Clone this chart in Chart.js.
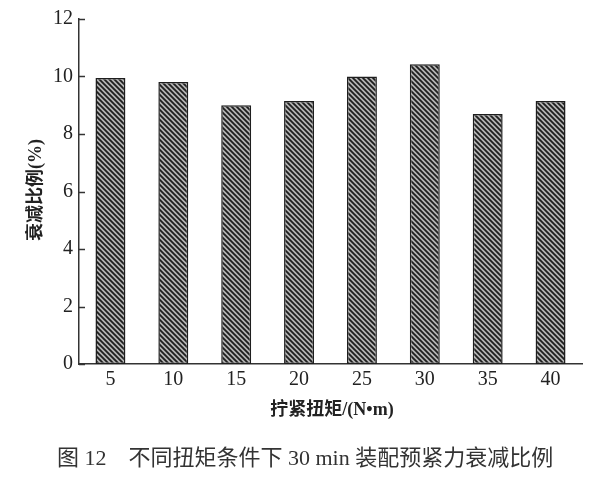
<!DOCTYPE html>
<html><head><meta charset="utf-8">
<script src="https://cdn.jsdelivr.net/npm/chart.js@4"></script>
<style>html,body{margin:0;padding:0;background:#fff}#wrap{width:593px;height:480px}</style>
</head><body><div id="wrap"><canvas id="c" width="593" height="480"></canvas></div>
<script>
const categories = ['5','10','15','20','25','30','35','40'];
const decayRatio = [9.95, 9.81, 9.0, 9.15, 10.0, 10.43, 8.7, 9.15];
const yTicks = [0, 2, 4, 6, 8, 10, 12];
const yTitle = '衰减比例(%)';
const xTitle = '拧紧扭矩/(N•m)';
const caption = '图 12　不同扭矩条件下 30 min 装配预紧力衰减比例';

function makePattern(){
  const p = document.createElement('canvas'); p.width = 5; p.height = 5;
  const g = p.getContext('2d');
  g.fillStyle = '#b4b4b4'; g.fillRect(0,0,5,5);
  g.strokeStyle = '#1e1e1e'; g.lineWidth = 1.8;
  g.beginPath();
  g.moveTo(-1,-1); g.lineTo(6,6);
  g.moveTo(4,-1); g.lineTo(6,1);
  g.moveTo(-1,4); g.lineTo(1,6);
  g.stroke();
  return document.getElementById('c').getContext('2d').createPattern(p,'repeat');
}

const extras = {
  id:'extras',
  afterDraw(chart){
    const ctx = chart.ctx, ys = chart.scales.y, a = chart.chartArea;
    ctx.save();
    ctx.strokeStyle = '#333'; ctx.lineWidth = 1.5;
    yTicks.forEach(v=>{
      const py = Math.round(ys.getPixelForValue(v))+0.5;
      ctx.beginPath(); ctx.moveTo(a.left, py); ctx.lineTo(a.left+6, py); ctx.stroke();
    });
    ctx.fillStyle = '#222';
    ctx.font = 'bold 18px "Liberation Serif", "Noto Sans CJK SC"';
    ctx.textAlign = 'center'; ctx.textBaseline = 'middle';
    ctx.fillText(xTitle, 332, 410);
    ctx.save();
    ctx.translate(36, 190); ctx.rotate(-Math.PI/2);
    ctx.fillText(yTitle, 0, 0);
    ctx.restore();
    ctx.font = '22px "Liberation Serif", "Noto Sans CJK SC"';
    ctx.fillStyle = '#333';
    ctx.textAlign = 'left';
    ctx.fillText(caption, 57, 459);
    ctx.restore();
  }
};

new Chart(document.getElementById('c'), {
  type:'bar',
  data:{ labels: categories, datasets:[{
    data: decayRatio,
    backgroundColor: makePattern(),
    borderColor:'#1e1e1e', borderWidth:1.5, borderSkipped:false,
    barPercentage:1.0, categoryPercentage:0.476
  }]},
  options:{
    responsive:false, animation:false, devicePixelRatio:1,
    layout:{ padding:{ left:0, top:19, right:11, bottom:0 } },
    plugins:{ legend:{display:false}, tooltip:{enabled:false} },
    scales:{
      x:{
        grid:{ display:false, drawTicks:false },
        border:{ display:true, color:'#333', width:1.5 },
        ticks:{ color:'#222', padding:4, font:{ family:'Liberation Serif', size:20 } },
        afterFit(s){ s.height = 116; }
      },
      y:{
        min:0, max:12,
        afterBuildTicks(s){ s.ticks = yTicks.map(v=>({value:v})); },
        grid:{ display:false, drawTicks:false },
        border:{ display:true, color:'#333', width:1.5 },
        ticks:{ color:'#222', padding:6, font:{ family:'Liberation Serif', size:20 } },
        afterFit(s){ s.width = 79; }
      }
    }
  },
  plugins:[extras]
});
</script></body></html>
